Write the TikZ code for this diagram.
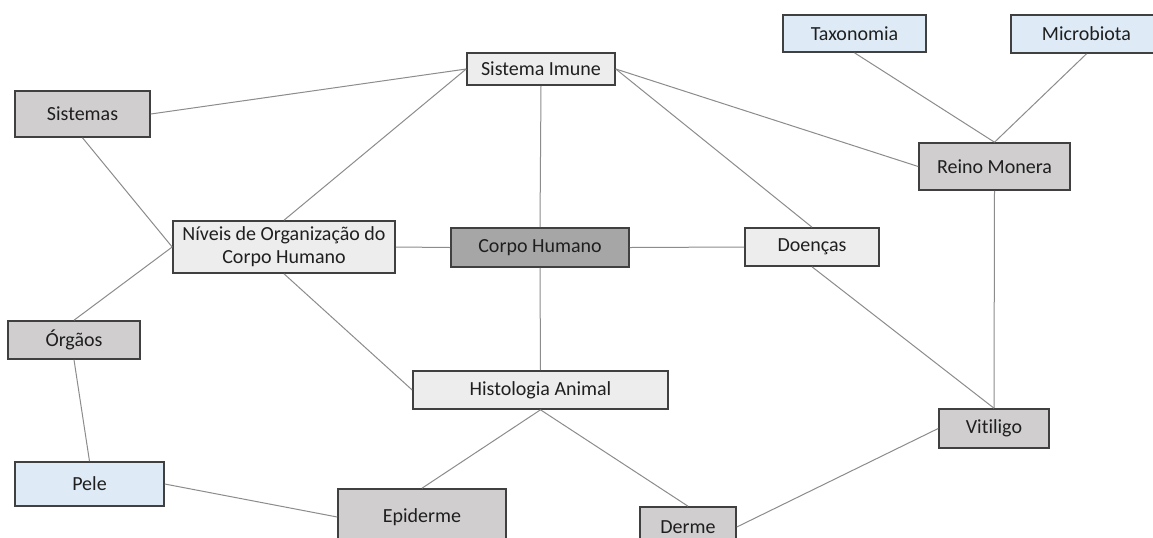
\documentclass[tikz,border=0pt]{standalone}
\usepackage{fontspec}
\setmainfont{Carlito}[Ligatures=NoCommon]
\usepackage{xcolor}
\usepackage{tikz}
\definecolor{boxgray}{HTML}{D0CECE}
\definecolor{boxlight}{HTML}{EDEDED}
\definecolor{boxdark}{HTML}{A6A6A6}
\definecolor{boxblue}{HTML}{DEEBF7}
\definecolor{edgegray}{HTML}{8C8C8C}
\tikzstyle{concept} = [draw=black!75, line width=0.8pt, rectangle,
text=black!88, font=\fontsize{10}{11.5}\selectfont, inner sep=2pt, align=center]
\tikzstyle{graybox} = [concept, fill=boxgray]
\tikzstyle{lightbox} = [concept, fill=boxlight]
\tikzstyle{darkbox} = [concept, fill=boxdark]
\tikzstyle{bluebox} = [concept, fill=boxblue]
\tikzstyle{link} = [draw=edgegray, line width=0.5pt]

\begin{document}
\begin{tikzpicture}[x=0.5pt, y=-0.5pt]
        \useasboundingbox (0,0) rectangle (1153,537);
        \fill[white] (0,0) rectangle (1153,537);
        \clip (0,0) rectangle (1153,537);
        \node [lightbox, minimum width=74pt, minimum height=16pt] (imune) at (541,69) {Sistema Imune};
        \node [bluebox, minimum width=71.5pt, minimum height=18.5pt] (taxonomia) at (854.5,33.5) {Taxonomia};
        \node [bluebox, minimum width=75.5pt, minimum height=19pt] (microbiota) at (1086.5,34) {Microbiota};
        \node [graybox, minimum width=67.5pt, minimum height=23pt] (sistemas) at (82.5,114) {Sistemas};
        \node [graybox, minimum width=75.5pt, minimum height=23.5pt] (monera) at (994.5,166.5) {Reino Monera};
        \node [lightbox, minimum width=111pt, minimum height=26pt] (niveis) at (284,247) {Níveis de Organização do\\Corpo Humano};
        \node [darkbox, minimum width=89pt, minimum height=19.5pt] (corpo) at (540,247.5) {Corpo Humano};
        \node [lightbox, minimum width=67pt, minimum height=19pt] (doencas) at (812,247) {Doenças};
        \node [graybox, minimum width=66pt, minimum height=19pt] (orgaos) at (74,340) {Órgãos};
        \node [lightbox, minimum width=127.5pt, minimum height=19pt] (histologia) at (540.5,390) {Histologia Animal};
        \node [graybox, minimum width=55pt, minimum height=19.5pt] (vitiligo) at (994,428.5) {Vitiligo};
        \node [bluebox, minimum width=74.5pt, minimum height=22pt] (pele) at (89.5,484) {Pele};
        \node [graybox, minimum width=84pt, minimum height=28pt] (epiderme) at (422,517) {Epiderme};
        \node [graybox, minimum width=48pt, minimum height=20pt] (derme) at (688,527) {Derme};

        \draw [link] (sistemas.east) -- (imune.west);
        \draw [link] (niveis.north) -- (imune.west);
        \draw [link] (imune.south) -- (corpo.north);
        \draw [link] (imune.east) -- (monera.west);
        \draw [link] (imune.east) -- (doencas.north);
        \draw [link] (taxonomia.south) -- (monera.north);
        \draw [link] (microbiota.south) -- (monera.north);
        \draw [link] (monera.south) -- (vitiligo.north);
        \draw [link] (doencas.south) -- (vitiligo.north);
        \draw [link] (sistemas.south) -- (niveis.west);
        \draw [link] (niveis.west) -- (orgaos.north);
        \draw [link] (niveis.east) -- (corpo.west);
        \draw [link] (corpo.east) -- (doencas.west);
        \draw [link] (corpo.south) -- (histologia.north);
        \draw [link] (niveis.south) -- (histologia.west);
        \draw [link] (orgaos.south) -- (pele.north);
        \draw [link] (pele.east) -- (epiderme.west);
        \draw [link] (histologia.south) -- (epiderme.north);
        \draw [link] (histologia.south) -- (derme.north);
        \draw [link] (derme.east) -- (vitiligo.west);
    \end{tikzpicture}
\end{document}
